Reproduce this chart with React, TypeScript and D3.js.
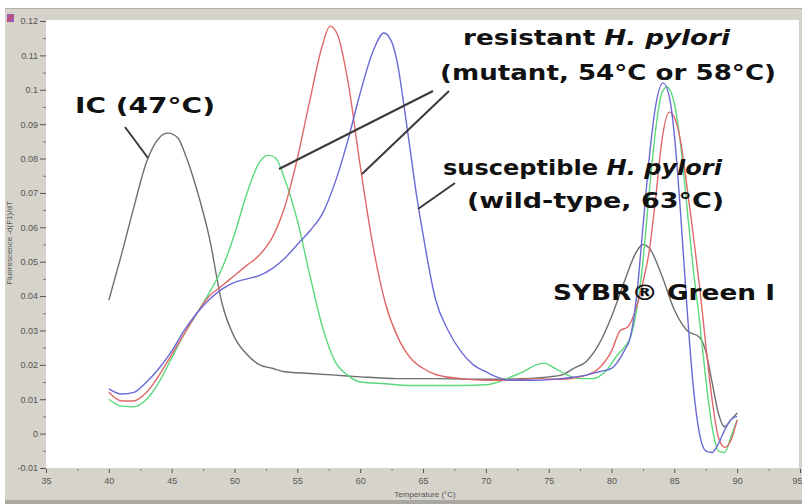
import { useEffect, useRef } from 'react'
import * as d3 from 'd3'

// melting curves, [temperature °C, -dF/dT]
const icCurve: [number, number][] = [
  [40, 0.0388], [41, 0.052], [42, 0.066], [43, 0.079], [44, 0.086], [44.7, 0.0874], [45.5, 0.086],
  [46, 0.082], [47, 0.071], [48, 0.057], [49, 0.038], [50, 0.028], [51, 0.023], [52, 0.02],
  [53, 0.019], [54, 0.018], [56, 0.0175], [58, 0.017], [60, 0.0165], [63, 0.016], [66, 0.016],
  [70, 0.0158], [73, 0.016], [75, 0.0165], [76, 0.017], [77, 0.019], [78, 0.021], [79, 0.026],
  [80, 0.034], [81, 0.044], [82, 0.053], [82.5, 0.055], [83, 0.054], [84, 0.046], [85, 0.036],
  [86, 0.03], [87, 0.028], [87.5, 0.024], [88, 0.015], [88.5, 0.006], [89, 0.002], [89.5, 0.004],
  [90, 0.006]
]

const greenCurve: [number, number][] = [
  [40, 0.01], [41, 0.008], [42, 0.0078], [43, 0.01], [44, 0.015], [45, 0.022], [46, 0.029],
  [47, 0.035], [48, 0.041], [49, 0.048], [50, 0.058], [51, 0.07], [52, 0.079], [52.7, 0.081],
  [53.3, 0.08], [54, 0.074], [55, 0.062], [56, 0.046], [57, 0.031], [58, 0.021], [59, 0.017],
  [60, 0.015], [62, 0.0145], [64, 0.014], [66, 0.014], [68, 0.014], [70, 0.0142], [71, 0.015],
  [72, 0.0165], [73, 0.018], [74, 0.02], [74.6, 0.0205], [75.5, 0.019], [76.5, 0.017],
  [77.5, 0.016], [78.5, 0.016], [79.5, 0.018], [80.5, 0.023], [81, 0.025], [81.5, 0.028],
  [82, 0.036], [82.5, 0.05], [83, 0.07], [83.5, 0.088], [84, 0.099], [84.4, 0.1008], [85, 0.096],
  [85.5, 0.084], [86, 0.066], [86.5, 0.048], [87, 0.033], [87.5, 0.016], [88, 0.002],
  [88.5, -0.005], [89, -0.0055], [89.5, -0.001], [90, 0.004]
]

const redCurve: [number, number][] = [
  [40, 0.012], [41, 0.0095], [42, 0.0095], [43, 0.012], [44, 0.017], [45, 0.023], [46, 0.029],
  [47, 0.035], [48, 0.04], [49, 0.043], [50, 0.046], [51, 0.049], [52, 0.052], [53, 0.057],
  [54, 0.066], [55, 0.08], [56, 0.097], [57, 0.113], [57.6, 0.1185], [58.2, 0.116], [59, 0.103],
  [60, 0.078], [61, 0.055], [62, 0.038], [63, 0.028], [64, 0.022], [65, 0.019], [66, 0.0172],
  [68, 0.016], [70, 0.0155], [72, 0.0155], [74, 0.016], [76, 0.0158], [78, 0.017], [79, 0.019],
  [80, 0.024], [80.7, 0.03], [81.3, 0.031], [82, 0.037], [82.5, 0.044], [83, 0.053], [83.5, 0.068],
  [84, 0.085], [84.6, 0.0935], [85, 0.092], [85.5, 0.085], [86, 0.072], [86.5, 0.058], [87, 0.043],
  [87.5, 0.026], [88, 0.01], [88.5, -0.001], [89, -0.004], [89.5, -0.002], [90, 0.004]
]

const blueCurve: [number, number][] = [
  [40, 0.013], [41, 0.0115], [42, 0.012], [43, 0.015], [44, 0.019], [45, 0.024], [46, 0.03],
  [47, 0.035], [48, 0.039], [49, 0.042], [50, 0.044], [51, 0.045], [52, 0.046], [53, 0.048],
  [54, 0.051], [55, 0.055], [56, 0.059], [57, 0.064], [58, 0.073], [59, 0.085], [60, 0.099],
  [61, 0.111], [61.9, 0.1165], [62.5, 0.114], [63, 0.107], [63.5, 0.095], [64, 0.082],
  [64.5, 0.069], [65, 0.058], [66, 0.039], [67, 0.03], [68, 0.024], [69, 0.02], [70, 0.018],
  [71, 0.0163], [72, 0.0155], [74, 0.0155], [76, 0.016], [78, 0.017], [79, 0.018], [80, 0.019],
  [81, 0.024], [81.5, 0.028], [82, 0.04], [82.5, 0.06], [83, 0.08], [83.5, 0.095], [84.1, 0.102],
  [84.6, 0.098], [85, 0.087], [85.5, 0.064], [86, 0.037], [86.5, 0.014], [87, 0], [87.5, -0.005],
  [88, -0.0055], [88.5, -0.003], [89, 0.001], [89.5, 0.004], [90, 0.005]
]

const xTicks = [35, 40, 45, 50, 55, 60, 65, 70, 75, 80, 85, 90, 95]
const yTicks = [-0.01, 0, 0.01, 0.02, 0.03, 0.04, 0.05, 0.06, 0.07, 0.08, 0.09, 0.1, 0.11, 0.12]
const yTickLabels = ['-0.01', '0', '0.01', '0.02', '0.03', '0.04', '0.05', '0.06', '0.07', '0.08', '0.09', '0.1', '0.11', '0.12']

const W = 802
const H = 504

export default function App() {
  const svgRef = useRef<SVGSVGElement | null>(null)

  useEffect(() => {
    if (!svgRef.current) return
    const svg = d3.select(svgRef.current)
    svg.selectAll('*').remove()

    const left = 46, right = 800, top = 20, bottom = 468
    const x = d3.scaleLinear().domain([35, 95]).range([left, right])
    const y = d3.scaleLinear().domain([-0.01, 0.12]).range([bottom, 21])

    // window frame
    svg.append('rect').attr('x', 0).attr('y', 0).attr('width', W).attr('height', H).attr('fill', '#fff')
    svg.append('rect').attr('x', 5).attr('y', 8).attr('width', W - 5).attr('height', 492).attr('fill', '#d6d3cb')
    svg.append('rect').attr('x', 5).attr('y', 500).attr('width', W - 5).attr('height', 4).attr('fill', '#a9a8a2')
    svg.append('line').attr('x1', 5).attr('x2', W).attr('y1', 8.5).attr('y2', 8.5).attr('stroke', '#b2b1aa')
    svg.append('rect').attr('x', 7).attr('y', 14).attr('width', 7).attr('height', 8).attr('fill', '#a05aa8')
    svg.append('line').attr('x1', 7).attr('y1', 21).attr('x2', 13).attr('y2', 15).attr('stroke', '#e04050').attr('stroke-width', 1.5)

    svg.append('rect').attr('x', left).attr('y', top).attr('width', right - left).attr('height', bottom - top).attr('fill', '#fff')
    svg.append('line').attr('x1', right - 0.5).attr('x2', right - 0.5).attr('y1', top).attr('y2', bottom).attr('stroke', '#d0d0d0')

    const tickFont = '"Liberation Sans", Arial, sans-serif'

    // y axis
    const yMinor = d3.range(-0.005, 0.12, 0.01)
    const yAxis = svg.append('g').attr('transform', `translate(${left},0)`)
      .call(d3.axisLeft(y).tickValues(yTicks).tickSize(6).tickPadding(2)
        .tickFormat((_d, i) => yTickLabels[i]))
    yAxis.select('.domain').remove()
    yAxis.selectAll('line').attr('stroke', '#555')
    yAxis.selectAll('text').attr('fill', '#555').style('font-family', tickFont).style('font-size', '9px')
    const yMinorAxis = svg.append('g').attr('transform', `translate(${left},0)`)
      .call(d3.axisLeft(y).tickValues(yMinor).tickSize(3).tickFormat(() => ''))
    yMinorAxis.select('.domain').remove()
    yMinorAxis.selectAll('line').attr('stroke', '#777')

    // x axis
    const xAxis = svg.append('g').attr('transform', `translate(0,${bottom + 1})`)
      .call(d3.axisBottom(x).tickValues(xTicks).tickSize(4).tickPadding(5).tickFormat(d3.format('d')))
    xAxis.select('.domain').remove()
    xAxis.selectAll('line').attr('stroke', '#555')
    xAxis.selectAll('text').attr('fill', '#555').style('font-family', tickFont).style('font-size', '9px')
    // last label sits at the window edge
    xAxis.selectAll('text').filter((d: any) => d === 95).attr('text-anchor', 'end').attr('x', 2)
    const xMinor = d3.range(37.5, 95, 5)
    const xMinorAxis = svg.append('g').attr('transform', `translate(0,${bottom + 1})`)
      .call(d3.axisBottom(x).tickValues(xMinor).tickSize(2).tickFormat(() => ''))
    xMinorAxis.select('.domain').remove()
    xMinorAxis.selectAll('line').attr('stroke', '#777')

    svg.append('text').attr('x', 425).attr('y', 497).attr('text-anchor', 'middle')
      .style('font-family', tickFont).style('font-size', '8px').attr('fill', '#555')
      .text('Temperature (°C)')
    svg.append('text').attr('transform', 'translate(12,243) rotate(-90)').attr('text-anchor', 'middle')
      .style('font-family', tickFont).style('font-size', '8px').attr('fill', '#555')
      .text('Fluorescence -d(F1)/dT')

    // curves
    const line = d3.line<[number, number]>()
      .x(d => x(d[0]))
      .y(d => y(d[1]))
      .curve(d3.curveMonotoneX)

    const series = [
      { data: icCurve, color: '#6e6e6e' },
      { data: greenCurve, color: '#5cd97c' },
      { data: redCurve, color: '#e06868' },
      { data: blueCurve, color: '#6a6ad6' }
    ]
    svg.append('g').selectAll('path').data(series).enter().append('path')
      .attr('d', d => line(d.data))
      .attr('fill', 'none')
      .attr('stroke', d => d.color)
      .attr('stroke-width', 1.4)

    // annotations
    const leaders = [
      [125, 127, 148, 158],
      [433, 91, 279, 169],
      [449, 91, 362, 174],
      [455, 183, 418, 209]
    ]
    svg.append('g').selectAll('line').data(leaders).enter().append('line')
      .attr('x1', d => d[0]).attr('y1', d => d[1]).attr('x2', d => d[2]).attr('y2', d => d[3])
      .attr('stroke', '#3a3a3a').attr('stroke-width', 2)

    const labelFont = '"DejaVu Sans", Verdana, sans-serif'
    const addLabel = (parts: { t: string; it?: boolean }[], x0: number, y0: number, len: number) => {
      const t = svg.append('text').attr('x', x0).attr('y', y0)
        .attr('textLength', len).attr('lengthAdjust', 'spacingAndGlyphs')
        .style('font-family', labelFont).style('font-size', '21px').style('font-weight', 'bold')
        .attr('fill', '#111')
      parts.forEach(p => {
        t.append('tspan').style('font-style', p.it ? 'italic' : 'normal').text(p.t)
      })
    }
    addLabel([{ t: 'IC (47°C)' }], 75, 113, 140)
    addLabel([{ t: 'resistant ' }, { t: 'H. pylori', it: true }], 463, 45, 267)
    addLabel([{ t: '(mutant, 54°C or 58°C)' }], 440, 80, 336)
    addLabel([{ t: 'susceptible ' }, { t: 'H. pylori', it: true }], 443, 175, 279)
    addLabel([{ t: '(wild-type, 63°C)' }], 467, 208, 257)
    addLabel([{ t: 'SYBR® Green I' }], 553, 300, 222)
  }, [])

  return (
    <svg ref={svgRef} width={W} height={H} style={{ position: 'absolute', left: 0, top: 0 }} />
  )
}
